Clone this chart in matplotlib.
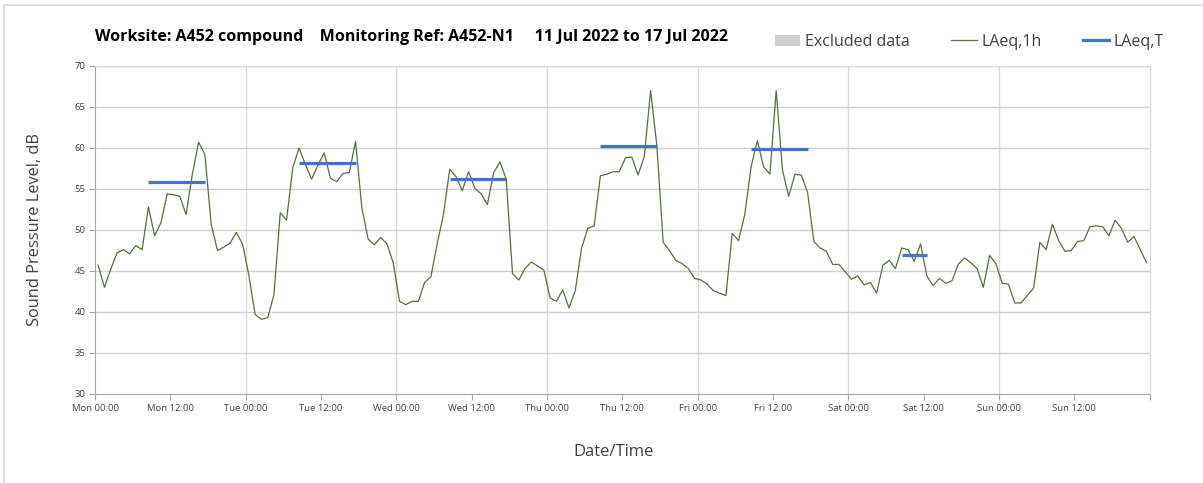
import numpy as np
import matplotlib
matplotlib.use('Agg')
import matplotlib.pyplot as plt
from matplotlib.lines import Line2D
from matplotlib.patches import Patch, Rectangle

plt.rcParams['font.family'] = ['Open Sans', 'DejaVu Sans']

# Hourly LAeq,1h values (dB), one list per day, 00:00 to 23:00
mon = [45.7, 43.0, 45.2, 47.2, 47.6, 47.1, 48.1, 47.6, 52.8, 49.3, 50.9, 54.4,
       54.3, 54.1, 51.9, 56.8, 60.7, 59.2, 50.7, 47.5, 47.9, 48.4, 49.7, 48.3]
tue = [44.5, 39.7, 39.1, 39.3, 42.1, 52.1, 51.2, 57.6, 60.0, 58.0, 56.2, 57.9,
       59.4, 56.3, 55.9, 56.9, 57.0, 60.8, 52.7, 48.9, 48.2, 49.1, 48.3, 46.0]
wed = [41.3, 40.9, 41.3, 41.3, 43.6, 44.3, 48.3, 51.9, 57.4, 56.5, 54.8, 57.1,
       55.1, 54.4, 53.1, 57.0, 58.3, 56.2, 44.7, 43.9, 45.3, 46.1, 45.6, 45.1]
thu = [41.7, 41.3, 42.7, 40.5, 42.6, 47.8, 50.2, 50.5, 56.6, 56.8, 57.1, 57.1,
       58.8, 58.9, 56.7, 59.0, 67.0, 60.2, 48.5, 47.5, 46.3, 45.9, 45.3, 44.1]
fri = [43.9, 43.4, 42.6, 42.3, 42.0, 49.6, 48.7, 51.9, 57.7, 60.9, 57.7, 56.8,
       67.0, 57.3, 54.1, 56.8, 56.7, 54.6, 48.6, 47.8, 47.4, 45.8, 45.8, 44.9]
sat = [44.0, 44.4, 43.3, 43.6, 42.3, 45.7, 46.3, 45.3, 47.8, 47.6, 46.2, 48.3,
       44.4, 43.2, 44.1, 43.5, 43.8, 45.8, 46.6, 46.0, 45.3, 43.0, 46.9, 45.9]
sun = [43.5, 43.4, 41.1, 41.1, 42.0, 42.9, 48.5, 47.6, 50.7, 48.7, 47.4, 47.5,
       48.6, 48.7, 50.4, 50.5, 50.4, 49.3, 51.2, 50.2, 48.5, 49.2, 47.6, 46.0]

# LAeq,T for each working period
period_day = [0, 1, 2, 3, 4, 5]
period_start = [8, 8, 8, 8, 8, 8]
period_end = [18, 18, 18, 18, 18, 13]
laeq_t = [55.8, 58.2, 56.2, 60.3, 59.9, 47.0]

day_names = ['Mon', 'Tue', 'Wed', 'Thu', 'Fri', 'Sat', 'Sun']

levels = np.concatenate([mon, tue, wed, thu, fri, sat, sun])
hours = np.arange(len(levels)) + 0.5

fig = plt.figure(figsize=(12.03, 4.83), dpi=100)
ax = fig.add_axes([0.079, 0.1843, 0.8767, 0.6791])

# chart area border (top and left edges visible)
fig.patches.append(Rectangle((0.0035, -0.05), 1.1, 1.04, transform=fig.transFigure,
                             fill=False, edgecolor='#d9d9d9', linewidth=1.2))

# Grid
for d in range(1, 8):
    ax.axvline(d * 24, color='#d9d9d9', linewidth=1.0, zorder=0)
for yv in range(35, 71, 5):
    ax.axhline(yv, color='#d0d0d0', linewidth=1.0, zorder=0)

ax.plot(hours, levels, color='#55703a', linewidth=0.9, zorder=3)

for d, s, e, v in zip(period_day, period_start, period_end, laeq_t):
    ax.hlines(v, d * 24 + s + 0.5, d * 24 + e - 0.5, color='#4472c4',
              linewidth=2.3, zorder=4)

ax.set_xlim(0, 168)
ax.set_ylim(30, 70)
ax.set_yticks(range(30, 71, 5))
ticks = list(range(0, 169, 12))
labels = ['%s %s' % (day_names[t // 24], '00:00' if t % 24 == 0 else '12:00')
          for t in ticks[:-1]] + ['']
ax.set_xticks(ticks)
ax.set_xticklabels(labels)
ax.tick_params(axis='both', labelsize=6.8, length=4, width=0.8,
               direction='out', pad=3, colors='#a6a6a6', labelcolor='#404040')

for side in ['top', 'right']:
    ax.spines[side].set_color('#d9d9d9')
for side in ['left', 'bottom']:
    ax.spines[side].set_color('#a6a6a6')

fig.text(35 / 1203, 1 - 230 / 483, 'Sound Pressure Level, dB', rotation=90,
         fontsize=11.8, color='#404040', ha='center', va='center')
fig.text(614 / 1203, 1 - 452 / 483, 'Date/Time', fontsize=12, color='#404040',
         ha='center', va='center')

fig.text(95 / 1203, 1 - 37 / 483, 'Worksite: A452 compound    Monitoring Ref: A452-N1     '
         '11 Jul 2022 to 17 Jul 2022', fontsize=11.5, fontweight='bold',
         color='#000000', va='center')

handles = [Patch(facecolor='#d0d0d0', edgecolor='none'),
           Line2D([], [], color='#55703a', linewidth=0.9),
           Line2D([], [], color='#4472c4', linewidth=2.3)]
fig.legend(handles, ['Excluded data', 'LAeq,1h', 'LAeq,T'], loc='center left',
           bbox_to_anchor=(0.644, 1 - 42 / 483), ncol=3, frameon=False, fontsize=11.5,
           handlelength=1.6, handletextpad=0.3, columnspacing=2.6,
           labelcolor='#404040', borderaxespad=0, borderpad=0)

fig.savefig('out.png', dpi=100)
